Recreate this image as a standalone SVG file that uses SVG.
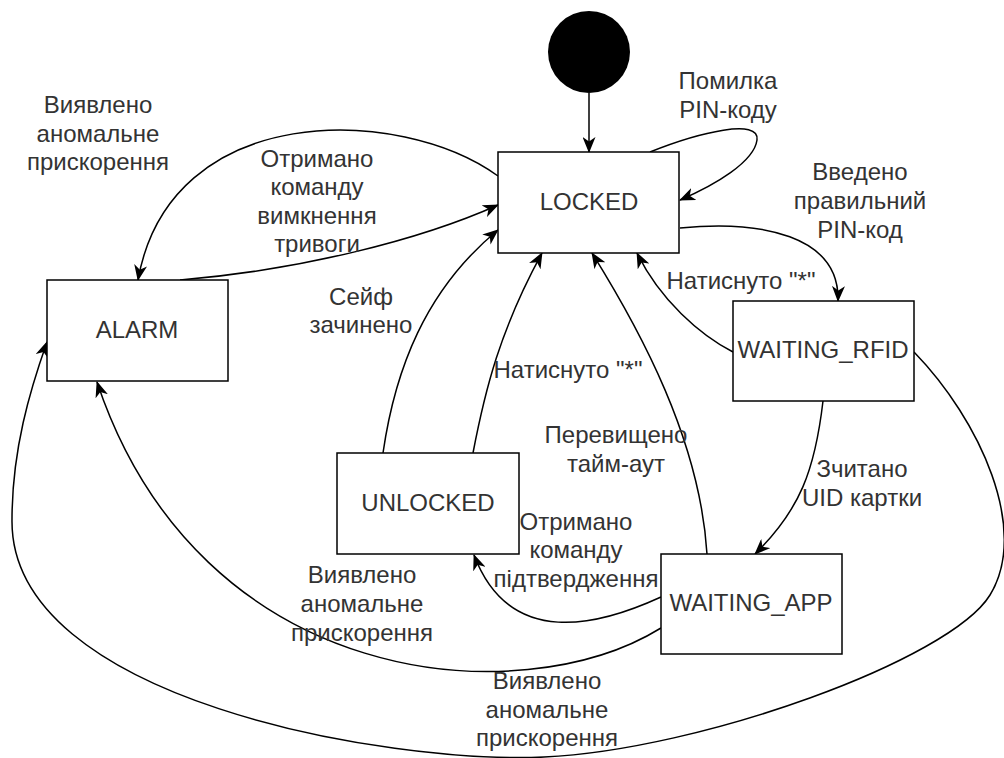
<svg xmlns="http://www.w3.org/2000/svg" width="1004" height="758" viewBox="0 0 1004 758">
  <style>
    .box { fill: #ffffff; stroke: #000000; stroke-width: 1.5; }
    .edge { fill: none; stroke: #000000; stroke-width: 1.5; marker-end: url(#arr); }
    text { font-family: "Liberation Sans", Arial, sans-serif; font-size: 24px; fill: #333333; text-anchor: middle; }
  </style>
  <defs>
    <marker id="arr" viewBox="0 0 16 13" refX="15" refY="6.5" markerWidth="16" markerHeight="13" markerUnits="userSpaceOnUse" orient="auto">
      <path d="M0,0 L16,6.5 L0,13 L4.5,6.5 Z" fill="#000000"/>
    </marker>
  </defs>
  <rect x="0" y="0" width="1004" height="758" fill="#ffffff"/>

  <g id="connectors">
    <path class="edge" d="M 589 93 L 589 152"/>
    <path class="edge" d="M 650 152 C 700 132, 760 118, 757 140 C 754 162, 715 185, 680 200"/>
    <path class="edge" d="M 498 176 C 400 105, 170 100, 138 280"/>
    <path class="edge" d="M 180 280 C 300 270, 420 240, 498 205"/>
    <path class="edge" d="M 383 453 C 395 370, 425 290, 498 230"/>
    <path class="edge" d="M 473 453 C 485 390, 500 330, 542 253"/>
    <path class="edge" d="M 707 554 C 700 440, 640 330, 592 253"/>
    <path class="edge" d="M 733 352 C 700 335, 660 300, 637 253"/>
    <path class="edge" d="M 680 228 C 760 220, 840 235, 838 301"/>
    <path class="edge" d="M 823 401 C 815 470, 800 510, 755 554"/>
    <path class="edge" d="M 661 597 C 600 625, 510 650, 474 555"/>
    <path class="edge" d="M 661 628 C 520 715, 200 690, 97 382"/>
    <path class="edge" d="M 914 352 C 980 420, 1030 530, 990 595 C 950 660, 700 750, 544 757 C 388 764, 10 700, 12 520 C 12 450, 30 390, 47 342"/>
  </g>

  <g id="edge-labels">
    <text x="98" y="113">Виявлено</text>
    <text x="98" y="142">аномальне</text>
    <text x="98" y="170">прискорення</text>

    <text x="317" y="167">Отримано</text>
    <text x="317" y="195">команду</text>
    <text x="317" y="224">вимкнення</text>
    <text x="317" y="252">тривоги</text>

    <text x="728" y="89">Помилка</text>
    <text x="728" y="118">PIN-коду</text>

    <text x="860" y="180">Введено</text>
    <text x="860" y="209">правильний</text>
    <text x="860" y="238">PIN-код</text>

    <text x="741" y="289">Натиснуто "*"</text>

    <text x="361" y="305">Сейф</text>
    <text x="361" y="333">зачинено</text>

    <text x="568" y="378">Натиснуто "*"</text>

    <text x="616" y="443">Перевищено</text>
    <text x="616" y="472">тайм-аут</text>

    <text x="576" y="530">Отримано</text>
    <text x="576" y="558">команду</text>
    <text x="576" y="587">підтвердження</text>

    <text x="862" y="477">Зчитано</text>
    <text x="862" y="506">UID картки</text>

    <text x="362" y="583">Виявлено</text>
    <text x="362" y="612">аномальне</text>
    <text x="362" y="641">прискорення</text>

    <text x="547" y="689">Виявлено</text>
    <text x="547" y="718">аномальне</text>
    <text x="547" y="746">прискорення</text>
  </g>

  <g id="initial">
    <circle cx="589" cy="52" r="41" fill="#000000"/>
  </g>
  <g id="LOCKED">
    <rect class="box" x="498" y="152" width="181" height="101"/>
    <text x="589" y="210">LOCKED</text>
  </g>
  <g id="ALARM">
    <rect class="box" x="47" y="280" width="181" height="101"/>
    <text x="137" y="338">ALARM</text>
  </g>
  <g id="WAITING_RFID">
    <rect class="box" x="733" y="301" width="181" height="100"/>
    <text x="823" y="358">WAITING_RFID</text>
  </g>
  <g id="UNLOCKED">
    <rect class="box" x="337" y="453" width="182" height="101"/>
    <text x="428" y="511">UNLOCKED</text>
  </g>
  <g id="WAITING_APP">
    <rect class="box" x="661" y="554" width="181" height="100"/>
    <text x="751" y="611">WAITING_APP</text>
  </g>
</svg>
